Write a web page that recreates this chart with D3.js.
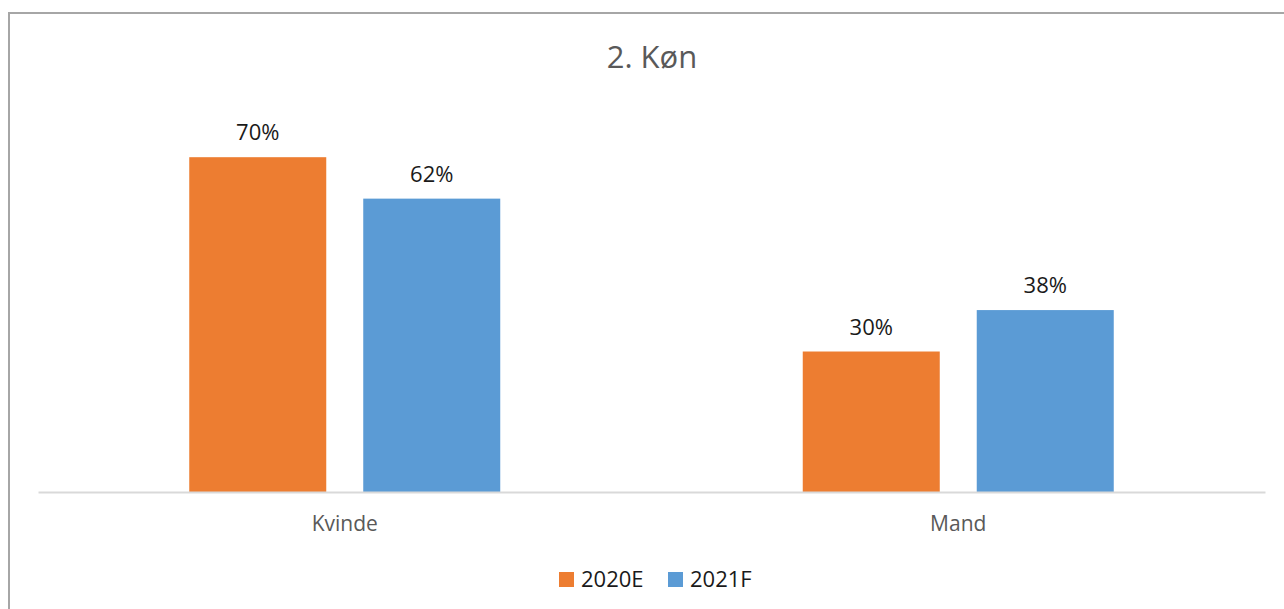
<!DOCTYPE html>
<meta charset="utf-8">
<script src="https://d3js.org/d3.v7.min.js"></script>
<style>
  body { margin: 0; background: #fff; }
  text { font-family: "Open Sans", sans-serif; }
</style>
<div id="my_dataviz"></div>
<script>
  // data
  var categories = ["Kvinde", "Mand"];
  var seriesNames = ["2020E", "2021F"];
  var values2020E = [0.703, 0.295];
  var values2021F = [0.616, 0.382];
  var seriesColors = ["#ED7D31", "#5B9BD5"];

  var width = 1284, height = 609;

  var svg = d3.select("#my_dataviz")
    .append("svg")
    .attr("width", width)
    .attr("height", height);

  // chart border (runs off the right/bottom edge)
  svg.append("rect")
    .attr("x", 9)
    .attr("y", 13)
    .attr("width", 1300)
    .attr("height", 700)
    .style("fill", "none")
    .style("stroke", "#a6a6a6")
    .style("stroke-width", 2);

  // title
  svg.append("text")
    .attr("x", 652)
    .attr("y", 68)
    .attr("text-anchor", "middle")
    .style("font-size", "31px")
    .style("fill", "#595959")
    .text("2. Køn");

  var x = d3.scaleBand()
    .domain(categories)
    .range([38, 1265]);

  var xSub = d3.scaleBand()
    .domain(seriesNames)
    .range([0, 311])
    .paddingInner(0.2126);

  var y = d3.scaleLinear()
    .domain([0, 0.8])
    .range([492, 111]);

  var rows = [];
  categories.forEach(function (c, i) {
    rows.push({ cat: c, series: "2020E", value: values2020E[i] });
    rows.push({ cat: c, series: "2021F", value: values2021F[i] });
  });
  var color = d3.scaleOrdinal().domain(seriesNames).range(seriesColors);
  var groupOffset = (x.bandwidth() - 311) / 2;

  // bars
  svg.append("g")
    .selectAll("rect")
    .data(rows)
    .enter()
    .append("rect")
    .attr("x", function (d) { return x(d.cat) + groupOffset + xSub(d.series); })
    .attr("y", function (d) { return y(d.value); })
    .attr("width", xSub.bandwidth())
    .attr("height", function (d) { return y(0) - y(d.value); })
    .style("fill", function (d) { return color(d.series); });

  // data labels
  svg.append("g")
    .selectAll("text")
    .data(rows)
    .enter()
    .append("text")
    .attr("x", function (d) { return x(d.cat) + groupOffset + xSub(d.series) + xSub.bandwidth() / 2; })
    .attr("y", function (d) { return y(d.value) - 17; })
    .attr("text-anchor", "middle")
    .style("font-size", "22px")
    .style("fill", "#1a1a1a")
    .text(function (d) { return d3.format(".0%")(d.value); });

  // x axis
  var xAxis = svg.append("g")
    .attr("transform", "translate(0," + y(0) + ")")
    .call(d3.axisBottom(x).tickSize(0).tickPadding(24));
  xAxis.select(".domain")
    .attr("stroke", "#d9d9d9")
    .attr("stroke-width", 2);
  xAxis.selectAll("text")
    .style("font-size", "21px")
    .style("fill", "#595959")
    .style("font-family", "'Open Sans', sans-serif");

  // legend
  var legendX = [559, 668];
  var legend = svg.append("g");
  legend.selectAll("rect")
    .data(seriesNames)
    .enter()
    .append("rect")
    .attr("x", function (d, i) { return legendX[i]; })
    .attr("y", 572)
    .attr("width", 15)
    .attr("height", 15)
    .style("fill", function (d) { return color(d); });
  legend.selectAll("text")
    .data(seriesNames)
    .enter()
    .append("text")
    .attr("x", function (d, i) { return legendX[i] + 22; })
    .attr("y", 587)
    .style("font-size", "22px")
    .style("fill", "#1a1a1a")
    .text(function (d) { return d; });
</script>
